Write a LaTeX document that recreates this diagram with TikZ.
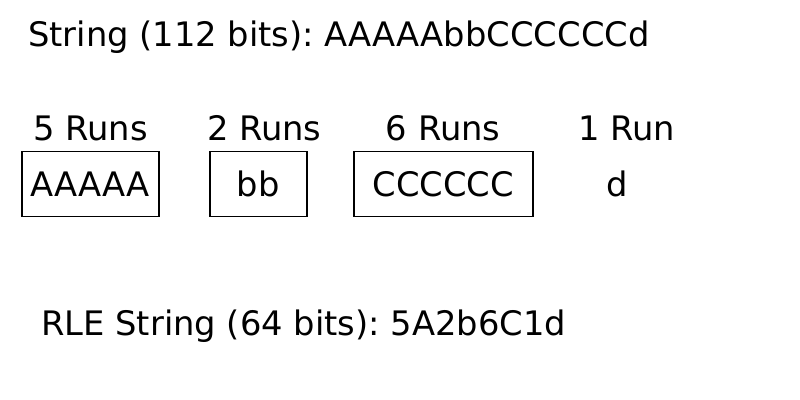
\documentclass[tikz,border=0pt]{standalone}
\usepackage{fontspec}
\setmainfont{DejaVu Sans}
\usetikzlibrary{positioning}
\frenchspacing

\begin{document}
\begin{tikzpicture}[
    every node/.style={font=\fontsize{24}{28}\selectfont},
    run/.style={rectangle, draw, line width=1.3pt, minimum height=1.625cm, inner sep=0pt},
    runlabel/.style={inner sep=0pt},
    textline/.style={inner sep=0pt, anchor=base west}
]
    \useasboundingbox (0,0) rectangle (20,10);

    \node[textline] (orig) at (0.7,8.825) {String (112 bits): AAAAAbbCCCCCCd};

    \node[run, minimum width=3.425cm] (aaaaa) at (2.2625,5.4) {AAAAA};
    \node[run, minimum width=2.425cm, right=1.225cm of aaaaa] (bb) {bb};
    \node[run, minimum width=4.475cm, right=1.125cm of bb] (cccccc) {CCCCCC};
    \node[run, draw=none, minimum width=1cm, right=1.575cm of cccccc] (d) {d};

    \node[runlabel, above=0.225cm of aaaaa] (laba) {5 Runs};
    \node[runlabel, above=0.225cm of bb, xshift=0.15cm] (labb) {2 Runs};
    \node[runlabel, above=0.225cm of cccccc] (labc) {6 Runs};
    \node[runlabel, above=0.225cm of d, xshift=0.225cm] (labd) {1 Run};

    \node[textline] (rle) at (1.025,1.6) {RLE String (64 bits): 5A2b6C1d};
\end{tikzpicture}
\end{document}
